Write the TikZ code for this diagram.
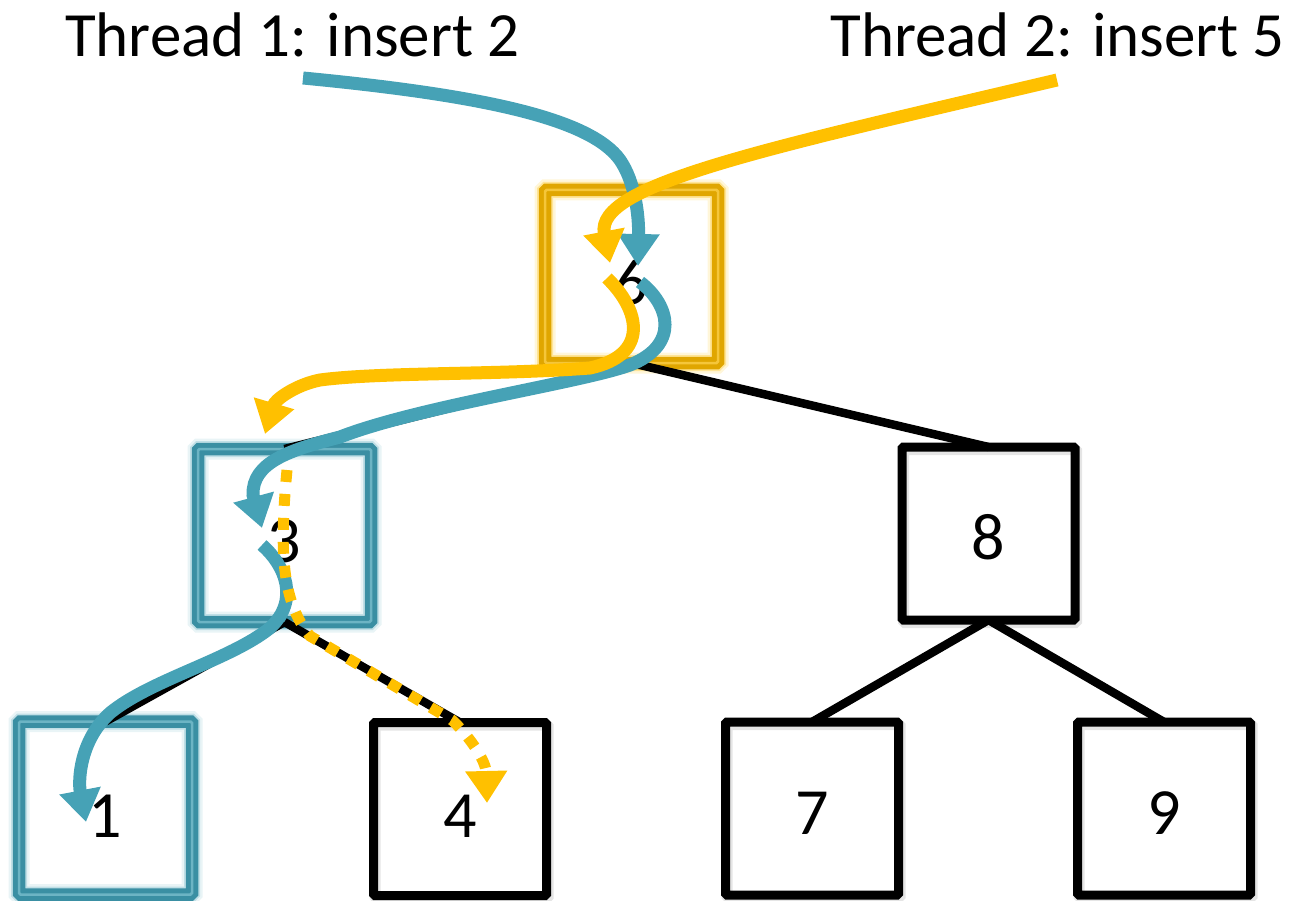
\documentclass[tikz,border=0pt]{standalone}
\usepackage{fontspec}
\setmainfont{Carlito}
\usetikzlibrary{arrows.meta}

\definecolor{thrA}{HTML}{46A2B6}
\definecolor{thrAbox}{HTML}{3A8FA3}
\definecolor{thrAlite}{HTML}{6CB4C4}
\definecolor{thrB}{HTML}{FFC000}
\definecolor{thrBbox}{HTML}{E0A600}
\definecolor{thrBlite}{HTML}{F5C63A}

\tikzset{
  treebox/.style={rectangle, minimum size=173pt, inner sep=0pt, outer sep=0pt,
    draw=black, line width=9pt, rounded corners=1.5pt,
    preaction={draw=black, draw opacity=0.10, line width=11pt,
      transform canvas={shift={(1.5pt,-2.5pt)}}}},
  tealbox/.style={rectangle, minimum size=173pt, inner sep=0pt, outer sep=0pt,
    rounded corners=1.5pt, draw=thrAbox, line width=5pt, double=thrAlite,
    double distance=2.5pt,
    preaction={draw=thrA, line width=21pt, draw opacity=0.12},
    preaction={draw=thrA, line width=16pt, draw opacity=0.25}},
  goldbox/.style={rectangle, minimum size=173pt, inner sep=0pt, outer sep=0pt,
    rounded corners=1.5pt, draw=thrBbox, line width=5pt, double=thrBlite,
    double distance=2.5pt,
    preaction={draw=thrB, line width=21pt, draw opacity=0.15},
    preaction={draw=thrB, line width=16pt, draw opacity=0.3}},
  digit/.style={inner sep=0pt, font=\fontsize{66}{66}\selectfont},
  title/.style={inner sep=0pt, font=\fontsize{63}{70}\selectfont},
  edge/.style={draw=black, line width=8.5pt},
  headtip/.style={-{Triangle[length=32pt,width=40pt]}},
  pathA/.style={draw=thrA, line width=13pt, headtip},
  pathB/.style={draw=thrB, line width=13pt, headtip},
  pathBdots/.style={draw=thrB, line width=11pt, dash pattern=on 12pt off 12pt, headtip},
}

\begin{document}
\begin{tikzpicture}[x=1pt, y=-1pt]
  \useasboundingbox (0,0) rectangle (1295,901);

  % boxes of the tree
  \node[goldbox] (n6) at (631.5,276.5) {};
  \node[tealbox] (n3) at (284.5,535.5) {};
  \node[treebox] (n8) at (988.5,533.5) {};
  \node[tealbox] (n1) at (105.5,808) {};
  \node[treebox] (n4) at (460,809) {};
  \node[treebox] (n7) at (812,808.5) {};
  \node[treebox] (n9) at (1164,808.5) {};

  % tree edges
  \draw[edge] (n6.south) -- (n3.north);
  \draw[edge] (n6.south) -- (n8.north);
  \draw[edge] (n3.south) -- (n1.north);
  \draw[edge] (n3.south) -- (n4.north);
  \draw[edge] (n8.south) -- (n7.north);
  \draw[edge] (n8.south) -- (n9.north);

  % keys
  \node[digit] (k6) at ([yshift=-6pt]n6.center) {6};
  \node[digit] (k3) at ([yshift=-6pt]n3.center) {3};
  \node[digit] (k8) at ([yshift=-4pt]n8.center) {8};
  \node[digit] (k1) at ([yshift=-8pt]n1.center) {1};
  \node[digit] (k4) at ([yshift=-7pt]n4.center) {4};
  \node[digit] (k7) at ([yshift=-5pt]n7.center) {7};
  \node[digit] (k9) at ([yshift=-5pt]n9.center) {9};

  % thread captions
  \node[title, anchor=base west] (cap1) at (65,57) {Thread 1: insert 2};
  \node[title, anchor=base east] (cap2) at (1285,57) {Thread 2: insert 5};

  % route of thread 1
  \coordinate (a0) at (303,78);
  \coordinate (a1) at (638,266);
  \coordinate (b0) at (640,282);
  \coordinate (b1) at (262,528);
  \coordinate (c0) at (262,545);
  \coordinate (c1) at (86,822);
  \draw[pathA] (a0) .. controls (480,95) and (590,118) .. (620,160)
                    .. controls (635,182) and (639,215) .. (a1);
  \draw[pathA] (b0) .. controls (670,305) and (680,345) .. (630,365)
                    .. controls (580,383) and (420,406) .. (340,437)
                    .. controls (290,450) and (252,462) .. (253,495)
                    -- (b1);
  \draw[pathA] (c0) .. controls (285,565) and (300,600) .. (270,628)
                    .. controls (230,660) and (150,680) .. (110,713)
                    .. controls (80,740) and (78,780) .. (c1);

  % route of thread 2
  \coordinate (y0) at (1057,80);
  \coordinate (y1) at (610,263);
  \coordinate (z0) at (607,278);
  \coordinate (z1) at (265,434);
  \coordinate (w0) at (287,470);
  \coordinate (w1) at (487,803);
  \draw[pathB] (y0) .. controls (760,150) and (595,185) .. (y1);
  \draw[pathB] (z0) .. controls (640,310) and (650,355) .. (590,368)
                    .. controls (500,375) and (380,372) .. (320,380)
                    .. controls (295,385) and (275,400) .. (z1);
  \draw[pathBdots] (w0) .. controls (280,545) and (280,600) .. (310,636)
                        -- (452,720)
                        .. controls (468,735) and (486,760) .. (w1);
\end{tikzpicture}
\end{document}
